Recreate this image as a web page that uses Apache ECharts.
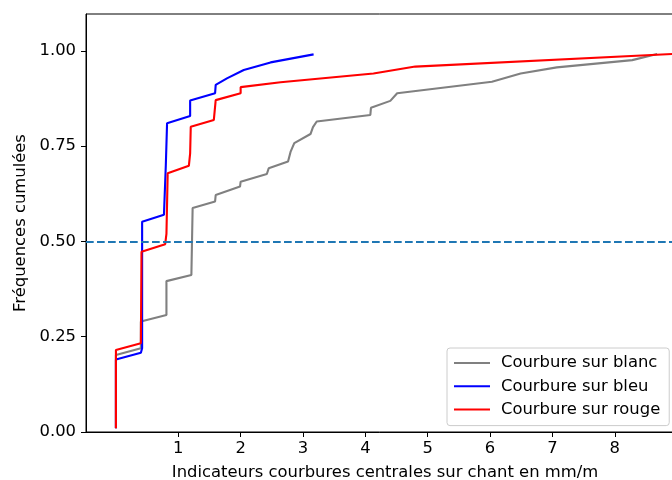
<!DOCTYPE html>
<html>
<head>
<meta charset="utf-8">
<script src="https://cdn.jsdelivr.net/npm/echarts@6/dist/echarts.min.js"></script>
<style>html,body{margin:0;padding:0;background:#fff}#c{width:672px;height:480px}</style>
</head>
<body>
<div id="c"></div>
<script>
// ---- data ----
const seriesNames = ["Courbure sur blanc", "Courbure sur bleu", "Courbure sur rouge"];
const blancX = [0, 0, 0.40, 0.40, 0.81, 0.81, 1.21, 1.23, 1.59, 1.60, 1.99, 2.00, 2.42, 2.45, 2.76, 2.80, 2.86, 3.12, 3.16, 3.22, 4.08, 4.09, 4.40, 4.51, 6.03, 6.49, 7.07, 8.28, 8.68];
const blancY = [0.01, 0.202, 0.22, 0.29, 0.307, 0.396, 0.412, 0.588, 0.605, 0.622, 0.644, 0.657, 0.677, 0.692, 0.71, 0.735, 0.758, 0.782, 0.80, 0.815, 0.832, 0.851, 0.869, 0.889, 0.919, 0.941, 0.957, 0.976, 0.992];
const bleuX = [0, 0, 0.40, 0.42, 0.42, 0.77, 0.80, 0.82, 1.19, 1.19, 1.59, 1.60, 1.78, 2.05, 2.48, 3.17];
const bleuY = [0.01, 0.19, 0.208, 0.22, 0.552, 0.570, 0.70, 0.81, 0.829, 0.87, 0.889, 0.911, 0.928, 0.950, 0.970, 0.991];
const rougeX = [0, 0, 0.40, 0.41, 0.79, 0.81, 0.83, 1.17, 1.19, 1.20, 1.57, 1.60, 2.00, 2.00, 2.64, 4.13, 4.80, 8.92, 9.10];
const rougeY = [0.01, 0.215, 0.233, 0.473, 0.493, 0.52, 0.679, 0.699, 0.731, 0.801, 0.819, 0.871, 0.889, 0.905, 0.918, 0.941, 0.959, 0.992, 0.993];
const refLevel = 0.5;
const xTickValues = [1, 2, 3, 4, 5, 6, 7, 8];
const yTickValues = [0, 0.25, 0.5, 0.75, 1.0];
const xLabel = "Indicateurs courbures centrales sur chant en mm/m";
const yLabel = "Fréquences cumulées";

const zip = (xs, ys) => xs.map((x, i) => [x, ys[i]]);
const FONT = "DejaVu Sans";
const FS = 16.4;

const chart = echarts.init(document.getElementById('c'), null, {renderer: 'canvas'});
const mk = (name, xs, ys, color, extra) => Object.assign({
  name, type: 'line', data: zip(xs, ys), symbol: 'none', showSymbol: false,
  lineStyle: {color, width: 2.1}, itemStyle: {color}, clip: true
}, extra || {});

chart.setOption({
  animation: false,
  backgroundColor: '#fff',
  grid: {left: 86, top: 14, right: -12, bottom: 48, show: true, borderColor: '#000', borderWidth: 1, containLabel: false, outerBoundsMode: 'none'},
  legend: {
    orient: 'vertical', left: 447, top: 348,
    data: seriesNames,
    itemWidth: 36, itemHeight: 14, itemGap: 7.3,
    padding: [7, 9, 8, 6],
    backgroundColor: 'rgba(255,255,255,0.8)',
    borderColor: '#cccccc', borderWidth: 1, borderRadius: 3,
    itemStyle: {opacity: 0},
    textStyle: {fontFamily: FONT, fontSize: FS, color: '#000', padding: [0, 0, 0, 6]}
  },
  xAxis: {
    type: 'value', min: -0.48, max: 9.11,
    name: xLabel, nameLocation: 'middle', nameGap: 33,
    nameTextStyle: {fontFamily: FONT, fontSize: FS, color: '#000'},
    splitLine: {show: false},
    axisLine: {show: true, onZero: false, lineStyle: {color: '#000', width: 1}},
    axisTick: {show: true, length: 5, customValues: xTickValues, lineStyle: {color: '#000', width: 1}},
    axisLabel: {customValues: xTickValues, margin: 9, fontFamily: FONT, fontSize: FS, color: '#000'}
  },
  yAxis: {
    type: 'value', min: 0, max: 1.097,
    name: yLabel, nameLocation: 'middle', nameGap: 55, nameRotate: 90,
    nameTextStyle: {fontFamily: FONT, fontSize: FS, color: '#000'},
    splitLine: {show: false},
    axisLine: {show: true, onZero: false, lineStyle: {color: '#000', width: 1}},
    axisTick: {show: true, length: 5, customValues: yTickValues, lineStyle: {color: '#000', width: 1}},
    axisLabel: {customValues: yTickValues, margin: 10, fontFamily: FONT, fontSize: FS, color: '#000',
      formatter: v => v.toFixed(2)}
  },
  series: [
    mk(seriesNames[0], blancX, blancY, '#808080', {
      markLine: {
        silent: true, symbol: 'none', label: {show: false},
        lineStyle: {color: '#1f77b4', type: [7.7, 3.3], width: 2.1},
        data: [{yAxis: refLevel}]
      }
    }),
    mk(seriesNames[1], bleuX, bleuY, '#0000ff'),
    mk(seriesNames[2], rougeX, rougeY, '#ff0000')
  ]
});
</script>
</body>
</html>
